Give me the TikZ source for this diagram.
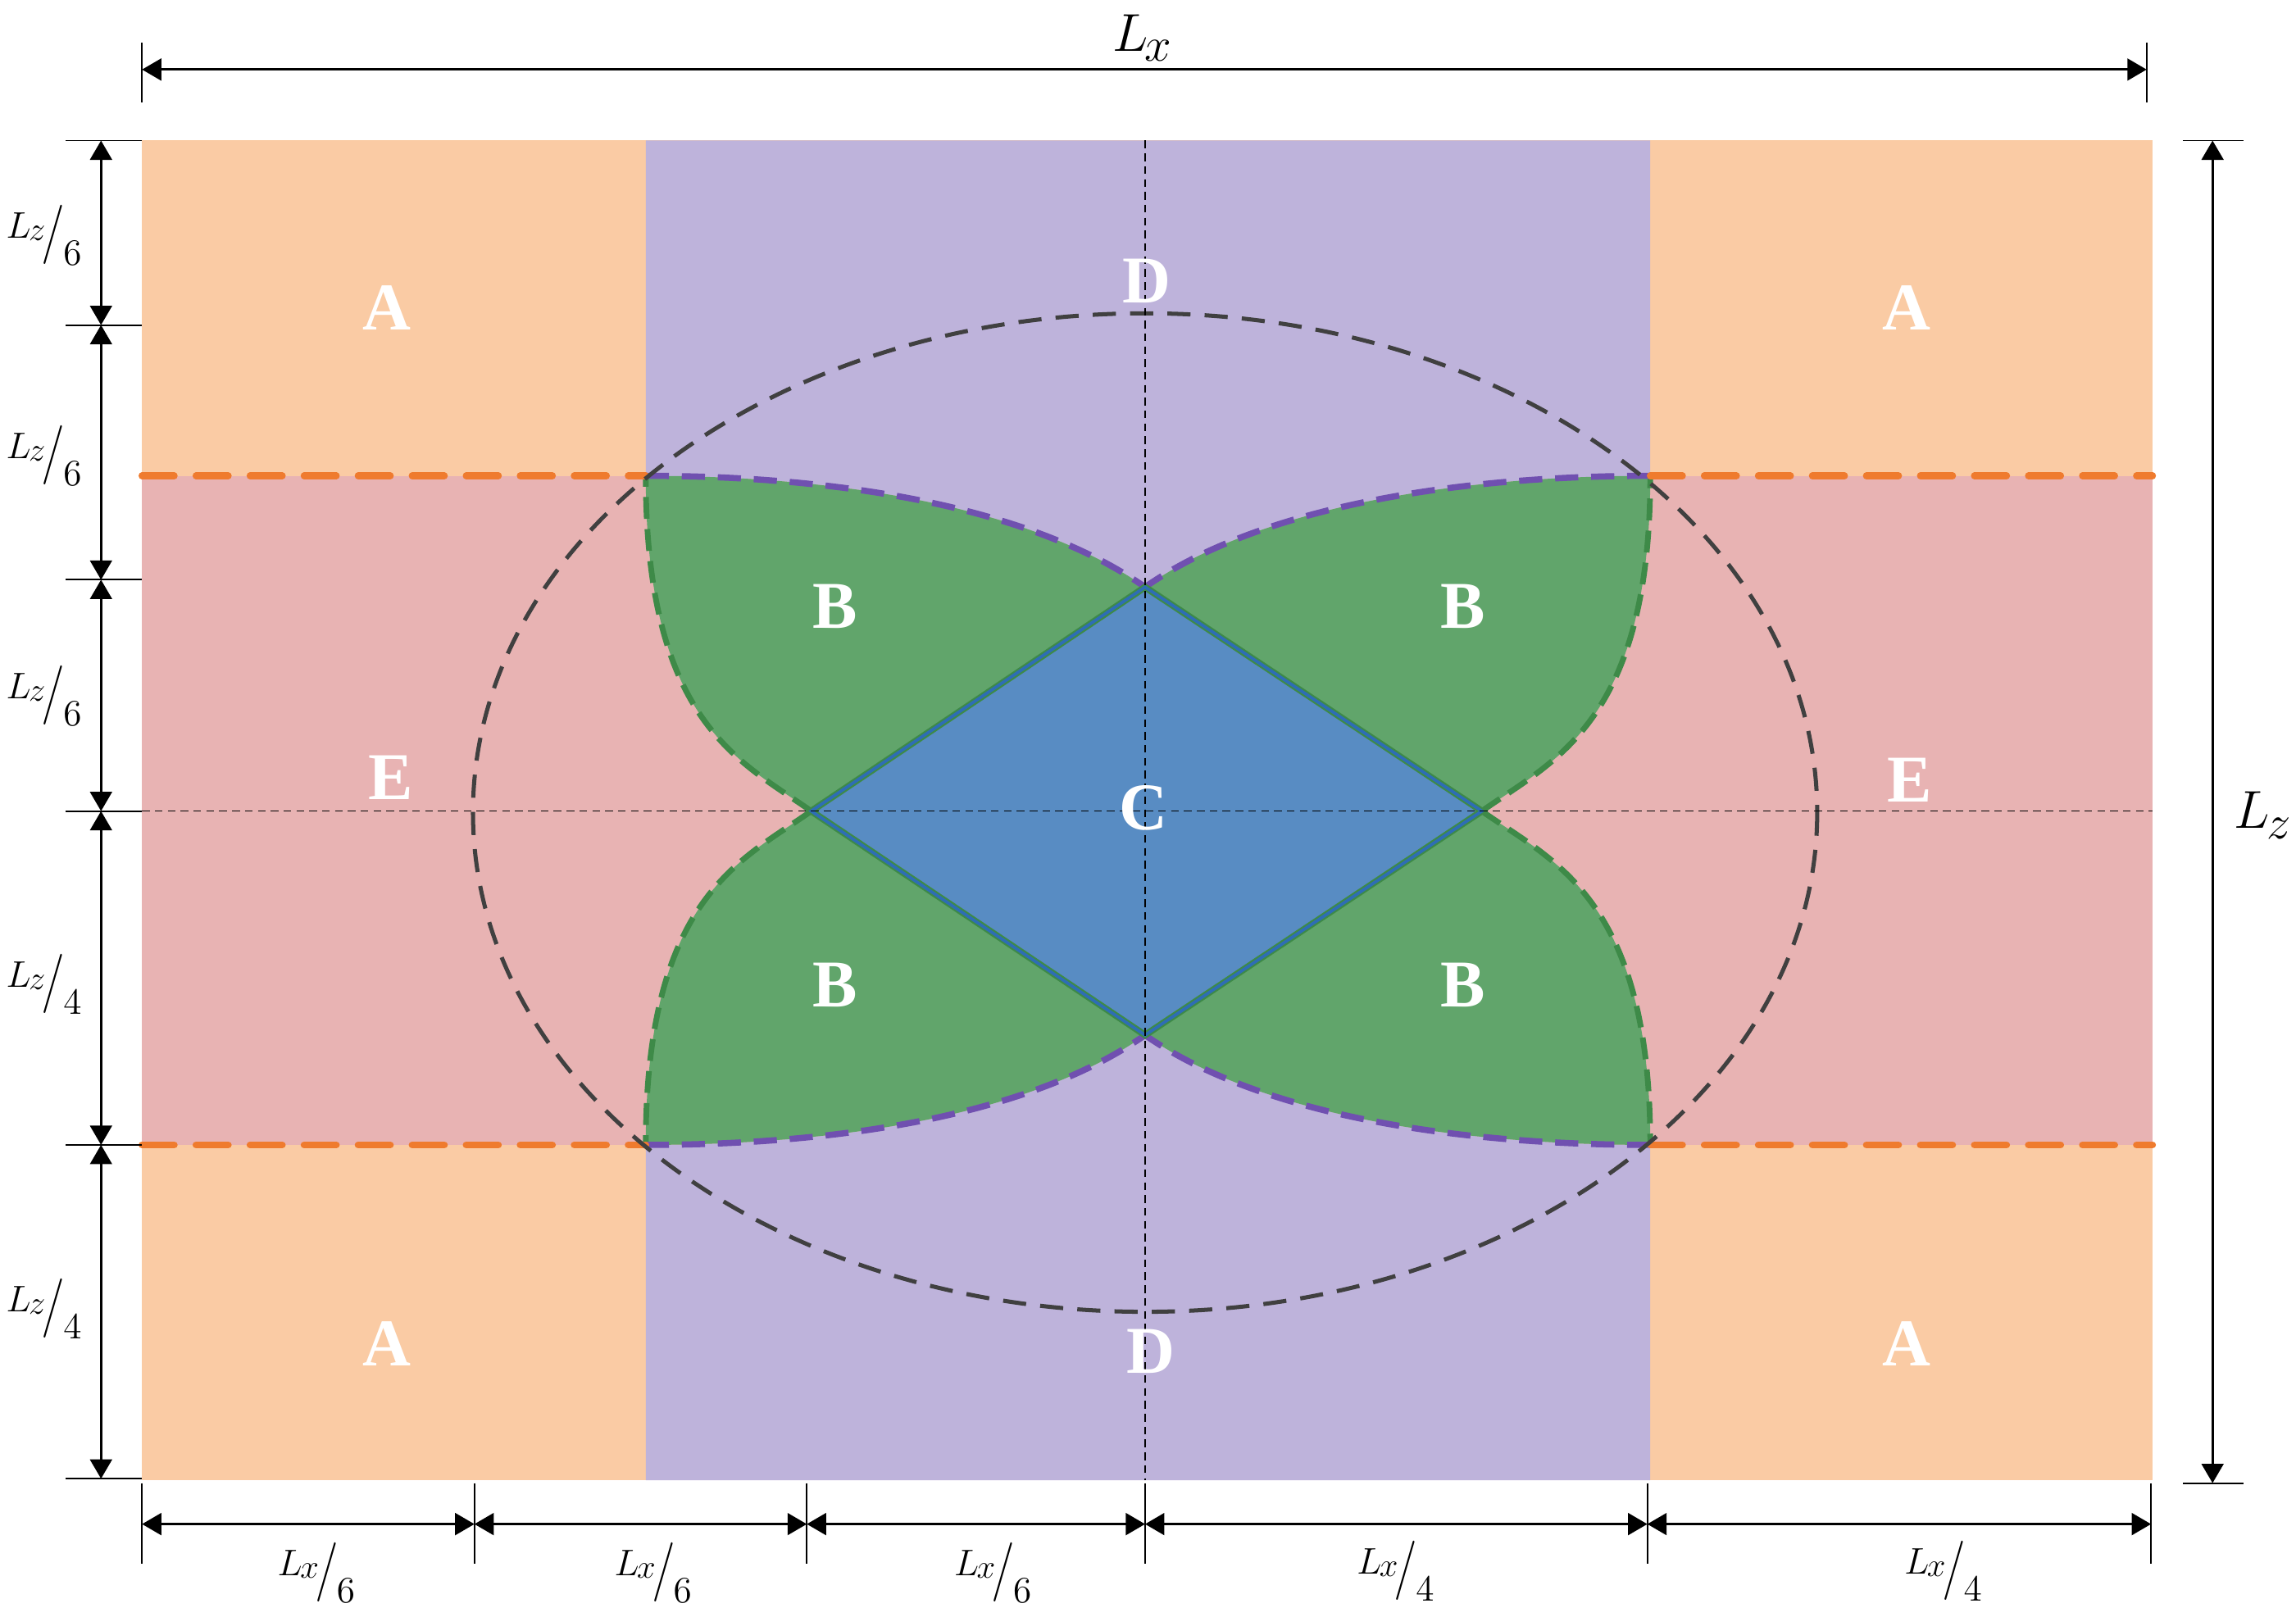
\documentclass[tikz,border=0pt]{standalone}
\usepackage{fontspec}
\usepackage{graphicx}
\newfontfamily\letterfont{Liberation Serif Bold}
\usetikzlibrary{arrows.meta}
\definecolor{cA}{HTML}{FACBA4}
\definecolor{cD}{HTML}{BEB3DB}
\definecolor{cE}{HTML}{E8B3B3}
\definecolor{cB}{HTML}{61A56B}
\definecolor{cC}{HTML}{588CC3}
\definecolor{cOr}{HTML}{EF7B2E}
\definecolor{cPu}{HTML}{7050B0}
\definecolor{cGr}{HTML}{3E8A48}
\definecolor{cBl}{HTML}{2E6DB5}
\definecolor{cEl}{HTML}{404040}
\newcommand{\Lsub}[2]{L\mkern-1mu\raisebox{-#2}{\scalebox{0.9}{$#1$}}}
\newcommand{\slf}[2]{\raisebox{0.3em}{$\Lsub{#1}{0.06em}$}\kern-0.1em\scalebox{1.3}[1.6]{$/$}\kern-0.05em\raisebox{-0.42em}{$#2$}}
\tikzset{
  ordash/.style={draw=cOr, line width=2.7pt, line cap=round, dash pattern=on 12.5pt off 8.5pt},
  pudash/.style={draw=cPu, line width=2.4pt, dash pattern=on 9pt off 5pt},
  grdash/.style={draw=cGr, line width=2.2pt, dash pattern=on 8.5pt off 4pt},
  elldash/.style={draw=cEl, line width=1.6pt, dash pattern=on 9pt off 5.5pt},
  cdash/.style={draw=black, line width=0.5pt, dash pattern=on 3pt off 2pt},
  tickln/.style={draw=black, line width=0.6pt},
  dimarr/.style={draw=black, line width=0.9pt, {Triangle[length=7.5pt,width=8.5pt]}-{Triangle[length=7.5pt,width=8.5pt]}},
  dimlab/.style={inner sep=0pt, font=\fontsize{14.5}{17}\selectfont},
  biglab/.style={inner sep=0pt, font=\fontsize{20}{24}\selectfont},
  lettr/.style={inner sep=0pt, text=white, font=\letterfont\fontsize{26}{28}\selectfont},
}
\begin{document}
\begin{tikzpicture}[x=0.02cm,y=-0.02cm]
\useasboundingbox (0,0) rectangle (1568,1097.8);
% key points
\coordinate (TL) at (441,325); \coordinate (TR) at (1127,325);
\coordinate (BL) at (441,782); \coordinate (BR) at (1127,782);
\coordinate (DT) at (782,401); \coordinate (DB) at (782,707);
\coordinate (DL) at (554,554); \coordinate (DR) at (1012,554);
\coordinate (O) at (782,555);
% region fills
\fill[cA] (97,96) rectangle (1470,1011);
\fill[cE] (97,325) rectangle (1470,782);
\fill[cD] (441,96) -- (1127,96) -- (TR) .. controls (992,325) and (859,347) .. (DT) .. controls (705,347) and (576,325) .. (TL) -- cycle;
\fill[cD] (441,1011) -- (1127,1011) -- (BR) .. controls (992,782) and (859,761) .. (DB) .. controls (705,761) and (576,782) .. (BL) -- cycle;
% petals
\fill[cB] (TL) .. controls (576,325) and (705,347) .. (DT) -- (DL) .. controls (506,520) and (441,494) .. (TL) -- cycle;
\fill[cB] (TR) .. controls (992,325) and (859,347) .. (DT) -- (DR) .. controls (1060,520) and (1127,494) .. (TR) -- cycle;
\fill[cB] (BL) .. controls (576,782) and (705,761) .. (DB) -- (DL) .. controls (506,588) and (441,613) .. (BL) -- cycle;
\fill[cB] (BR) .. controls (992,782) and (859,761) .. (DB) -- (DR) .. controls (1060,588) and (1127,613) .. (BR) -- cycle;
% petal borders
\draw[grdash] (DL) .. controls (506,520) and (441,494) .. (TL);
\draw[grdash] (DR) .. controls (1060,520) and (1127,494) .. (TR);
\draw[grdash] (DL) .. controls (506,588) and (441,613) .. (BL);
\draw[grdash] (DR) .. controls (1060,588) and (1127,613) .. (BR);
\draw[pudash] (TL) .. controls (576,325) and (705,347) .. (DT);
\draw[pudash] (TR) .. controls (992,325) and (859,347) .. (DT);
\draw[pudash] (BL) .. controls (576,782) and (705,761) .. (DB);
\draw[pudash] (BR) .. controls (992,782) and (859,761) .. (DB);
% diamond
\fill[cC] (DT) -- (DR) -- (DB) -- (DL) -- cycle;
\draw[cGr, line width=2.6pt, line join=miter] (DT) -- (DR) -- (DB) -- (DL) -- cycle;
\draw[cBl, line width=1.2pt, line join=miter] (DT) -- (DR) -- (DB) -- (DL) -- cycle;
% orange dashed band limits
\draw[ordash] (97,325) -- (TL);
\draw[ordash] (TR) -- (1470,325);
\draw[ordash] (97,782) -- (BL);
\draw[ordash] (BR) -- (1470,782);
% ellipse
\draw[elldash] (O) ellipse [x radius=459, y radius=341];
% centre lines
\draw[cdash] (782,96) -- (782,1011);
\draw[cdash] (97,554) -- (1470,554);
% region letters
\node[lettr] (A1) at (264,210) {A};
\node[lettr] (A2) at (1302,210) {A};
\node[lettr] (A3) at (264,918) {A};
\node[lettr] (A4) at (1302,918) {A};
\node[lettr] (D1) at (783,192) {D};
\node[lettr] (D2) at (786,923) {D};
\node[lettr] (E1) at (267,531) {E};
\node[lettr] (E2) at (1304,533) {E};
\node[lettr] (C1) at (781,552) {C};
\node[lettr] (B1) at (570,414) {B};
\node[lettr] (B2) at (999,414) {B};
\node[lettr] (B3) at (570,673) {B};
\node[lettr] (B4) at (999,673) {B};
% top dimension Lx
\draw[tickln] (97,29) -- (97,70);
\draw[tickln] (1466,29) -- (1466,70);
\coordinate (lx1) at (97,47.5); \coordinate (lx2) at (1466,47.5);
\draw[dimarr] (lx1) -- (lx2);
\node[biglab] (Lxl) at (780,26) {$\Lsub{x}{0.19em}$};
% right dimension Lz
\draw[tickln] (1491,96) -- (1532,96);
\draw[tickln] (1491,1013) -- (1532,1013);
\coordinate (rz1) at (1511,96); \coordinate (rz2) at (1511,1013);
\draw[dimarr] (rz1) -- (rz2);
\node[biglab] (Lzl) at (1545,557) {$\Lsub{z}{0.21em}$};
% left chain
\foreach \yy in {96,222,396,554,782,1010} \draw[tickln] (45,\yy) -- (97,\yy);
\coordinate (z0) at (69,96); \coordinate (z1) at (69,222); \coordinate (z2) at (69,396);
\coordinate (z3) at (69,554); \coordinate (z4) at (69,782); \coordinate (z5) at (69,1010);
\draw[dimarr] (z0) -- (z1);
\draw[dimarr] (z1) -- (z2);
\draw[dimarr] (z2) -- (z3);
\draw[dimarr] (z3) -- (z4);
\draw[dimarr] (z4) -- (z5);
\node[dimlab] (lz1) at (30,160.5) {\slf{z}{6}};
\node[dimlab] (lz2) at (30,311) {\slf{z}{6}};
\node[dimlab] (lz3) at (30,475) {\slf{z}{6}};
\node[dimlab] (lz4) at (30,672) {\slf{z}{4}};
\node[dimlab] (lz5) at (30,894) {\slf{z}{4}};
% bottom chain
\foreach \xx in {97,324,551,782,1125,1469} \draw[tickln] (\xx,1013) -- (\xx,1068);
\coordinate (x0) at (97,1041); \coordinate (x1) at (324,1041); \coordinate (x2) at (551,1041);
\coordinate (x3) at (782,1041); \coordinate (x4) at (1125,1041); \coordinate (x5) at (1469,1041);
\draw[dimarr] (x0) -- (x1);
\draw[dimarr] (x1) -- (x2);
\draw[dimarr] (x2) -- (x3);
\draw[dimarr] (x3) -- (x4);
\draw[dimarr] (x4) -- (x5);
\node[dimlab] (lxa) at (216,1074) {\slf{x}{6}};
\node[dimlab] (lxb) at (446,1074) {\slf{x}{6}};
\node[dimlab] (lxc) at (678,1074) {\slf{x}{6}};
\node[dimlab] (lxd) at (953,1073) {\slf{x}{4}};
\node[dimlab] (lxe) at (1327,1073) {\slf{x}{4}};
\end{tikzpicture}
\end{document}
